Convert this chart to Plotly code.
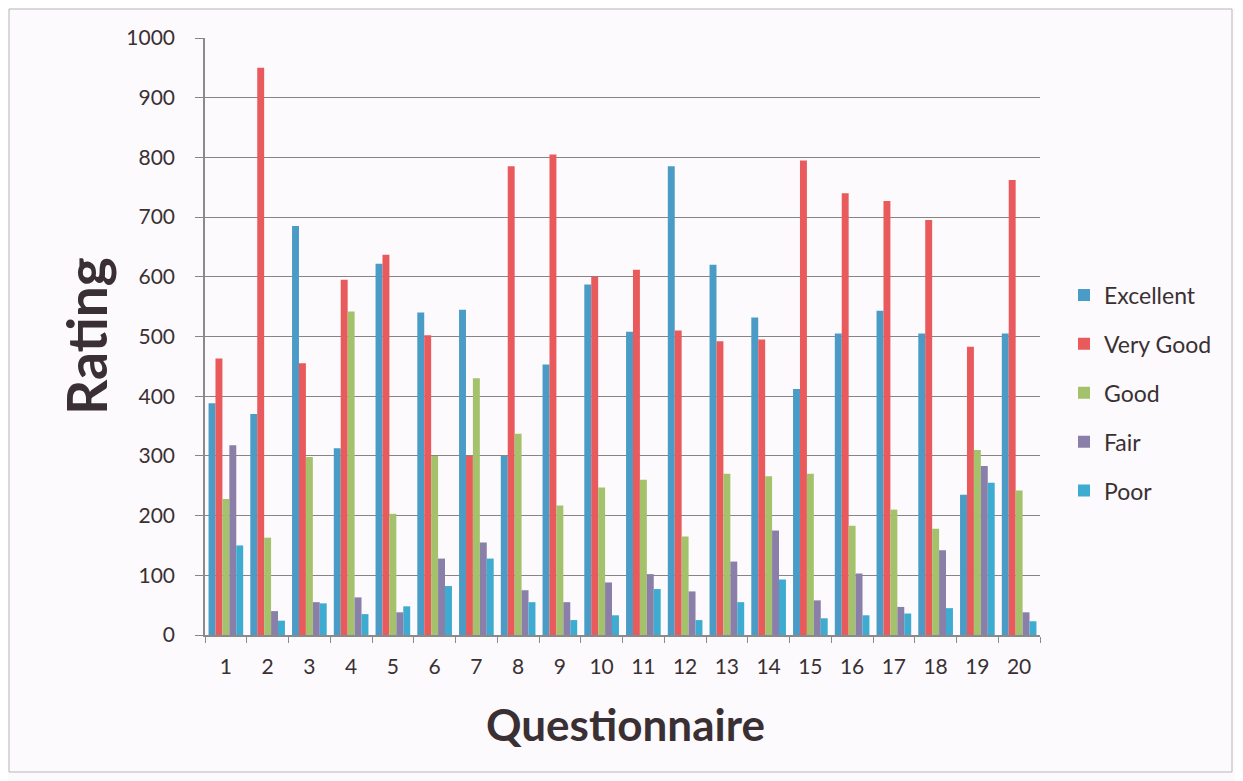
import plotly.graph_objects as go

questions = [str(i) for i in range(1, 21)]
excellent = [388, 370, 685, 313, 622, 540, 545, 300, 453, 587, 508, 785, 620, 532, 412, 505, 543, 505, 235, 505]
very_good = [463, 950, 455, 595, 637, 502, 300, 785, 805, 600, 612, 510, 492, 495, 795, 740, 727, 695, 483, 762]
good = [228, 163, 298, 542, 203, 300, 430, 337, 217, 247, 260, 165, 270, 266, 270, 183, 210, 178, 310, 242]
fair = [318, 40, 55, 63, 38, 128, 155, 75, 55, 88, 102, 73, 123, 175, 58, 103, 47, 142, 283, 38]
poor = [150, 24, 53, 35, 48, 82, 128, 55, 25, 33, 77, 25, 55, 93, 28, 33, 36, 45, 255, 23]

series = [
    ("Excellent", excellent, "#4a9cc6"),
    ("Very Good", very_good, "#e85a5c"),
    ("Good", good, "#a4c26b"),
    ("Fair", fair, "#8a7fa8"),
    ("Poor", poor, "#3eabd0"),
]

fig = go.Figure()
for name, vals, col in series:
    fig.add_trace(go.Bar(x=questions, y=vals, name=name, legendgroup=name,
                         marker=dict(color=col, line=dict(width=0))))

# page has an 8px body margin; figure origin sits at page (8, 8)
OFF = 8
W, H = 1235, 773
L, T = 205 - OFF, 38 - OFF          # plot area left/top in figure px
PW, PH = 835, 597
R, B = W - L - PW, H - T - PH

def px(xp):  # page x -> paper x
    return (xp - 205) / PW

def py(yp):  # page y -> paper y
    return (635 - yp) / PH

txt = "#3a3034"
fig.update_layout(
    width=W, height=H,
    paper_bgcolor="#fcfafc", plot_bgcolor="#fcfafc",
    margin=dict(l=L, r=R, t=T, b=B),
    barmode="group", bargap=0.17, bargroupgap=0,
    font=dict(family="Lato, 'Open Sans', sans-serif", color=txt, size=21),
    showlegend=True,
    legend=dict(x=px(1064), y=py(393), xanchor="left", yanchor="middle",
                font=dict(size=23, color=txt), tracegroupgap=16,
                bgcolor="rgba(0,0,0,0)"),
    xaxis=dict(showline=True, linecolor="#8a8a8a", linewidth=1.5, ticks="outside",
               ticklen=6, tickcolor="#8a8a8a", showgrid=False, tickson="boundaries",
               ticklabelstandoff=12, tickfont=dict(size=21, color=txt)),
    yaxis=dict(range=[0, 1000], dtick=100, showgrid=True, gridcolor="#858585", gridwidth=1.3,
               showline=True, linecolor="#8a8a8a", linewidth=1.5, ticks="outside",
               ticklen=8, tickcolor="#858585", zeroline=False,
               ticklabelstandoff=16, tickfont=dict(size=21, color=txt)),
    annotations=[
        dict(text="<b>Rating</b>", x=px(86), y=py(336), xref="paper", yref="paper", showarrow=False,
             textangle=-90, font=dict(size=55, color=txt), xanchor="center", yanchor="middle"),
        dict(text="<b>Questionnaire</b>", x=px(625), y=py(724), xref="paper", yref="paper",
             showarrow=False, font=dict(size=44, color=txt), xanchor="center", yanchor="middle"),
    ],
    shapes=[dict(type="rect", xref="paper", yref="paper", x0=px(9), x1=px(1232), y0=py(772), y1=py(9),
                 line=dict(color="#b8b8b8", width=1), layer="below")],
)

fig.write_html("out.html")
